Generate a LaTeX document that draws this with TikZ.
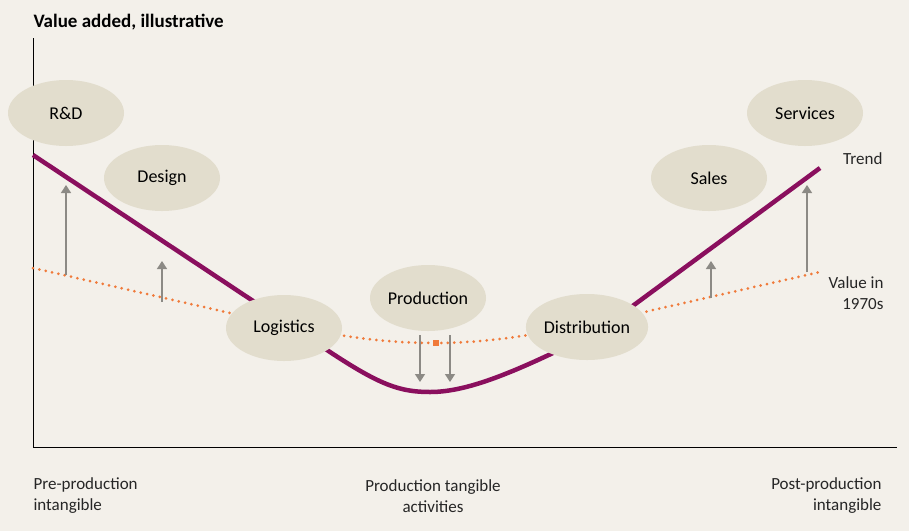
\documentclass[tikz,border=0pt]{standalone}
\usepackage{fontspec}
\setmainfont{Carlito}
\begin{document}
\begin{tikzpicture}[x=1pt,y=-1pt,
  bub/.style={ellipse,fill=bubfill,minimum width=116pt,minimum height=66pt,inner sep=0pt,font=\fontsize{18}{20}\selectfont},
  garrow/.style={draw=arrgray,line width=1.4pt,-{Triangle[length=8pt,width=10pt]}},
  lab/.style={font=\fontsize{17}{21}\selectfont,text=black!85,align=center}]
\usetikzlibrary{shapes.geometric,arrows.meta}
\definecolor{bg}{HTML}{F3F0EA}
\definecolor{bubfill}{HTML}{E2DDCD}
\definecolor{trend}{HTML}{8A0F5E}
\definecolor{orng}{HTML}{F07A3A}
\definecolor{arrgray}{HTML}{8C8A85}
\fill[bg] (0,0) rectangle (909,531);
\useasboundingbox (0,0) rectangle (909,531);
\node[anchor=west,font=\bfseries\fontsize{19}{21}\selectfont] (title) at (30,22) {Value added, illustrative};
\coordinate (o) at (33,447);
\coordinate (ytop) at (33,38);
\coordinate (xend) at (897,447);
\draw[line width=1pt] (ytop) -- (o) -- (xend);
% value in 1970s
\draw[orng,line width=3pt,dash pattern=on 0pt off 6.5pt,line cap=round] (33,268) -- (230,313) .. controls (330,336) and (380,343) .. (436,343) .. controls (500,343) and (560,330) .. (640,313) -- (820,272);
\fill[orng] (433,340) rectangle (439,346);
% trend
\draw[trend,line width=4.5pt] (33,155) -- (330,352) .. controls (380,385) and (400,392) .. (430,392) .. controls (470,392) and (520,370) .. (600,330) -- (820,168);
% arrows
\coordinate (a1s) at (66,275); \coordinate (a1e) at (66,185);
\coordinate (a2s) at (162,302); \coordinate (a2e) at (162,261);
\coordinate (a3s) at (420,335); \coordinate (a3e) at (420,382);
\coordinate (a4s) at (450,335); \coordinate (a4e) at (450,382);
\coordinate (a5s) at (711,298); \coordinate (a5e) at (711,261);
\coordinate (a6s) at (807,272); \coordinate (a6e) at (807,185);
\foreach \i in {1,...,6} \draw[garrow] (a\i s) -- (a\i e);
% bubbles
\node[bub] (rd) at (66,113) {R\&D};
\node[bub] (design) at (162,178) {Design};
\node[bub] (log) at (284,328) {Logistics};
\node[bub] (prod) at (428,298) {Production};
\node[bub] (dist) at (587,327) {Distribution};
\node[bub] (sales) at (709,178) {Sales};
\node[bub] (serv) at (805,113) {Services};
\node[lab,anchor=east] (trendl) at (886,159) {Trend};
\node[lab,anchor=east,align=right] (v70) at (887,293) {Value in\\1970s};
\node[lab,anchor=west,align=left] (pre) at (30,496) {Pre-production\\intangible};
\node[lab] (mid) at (433,496) {Production tangible\\activities};
\node[lab,anchor=east,align=right] (post) at (885,496) {Post-production\\intangible};
\end{tikzpicture}
\end{document}
